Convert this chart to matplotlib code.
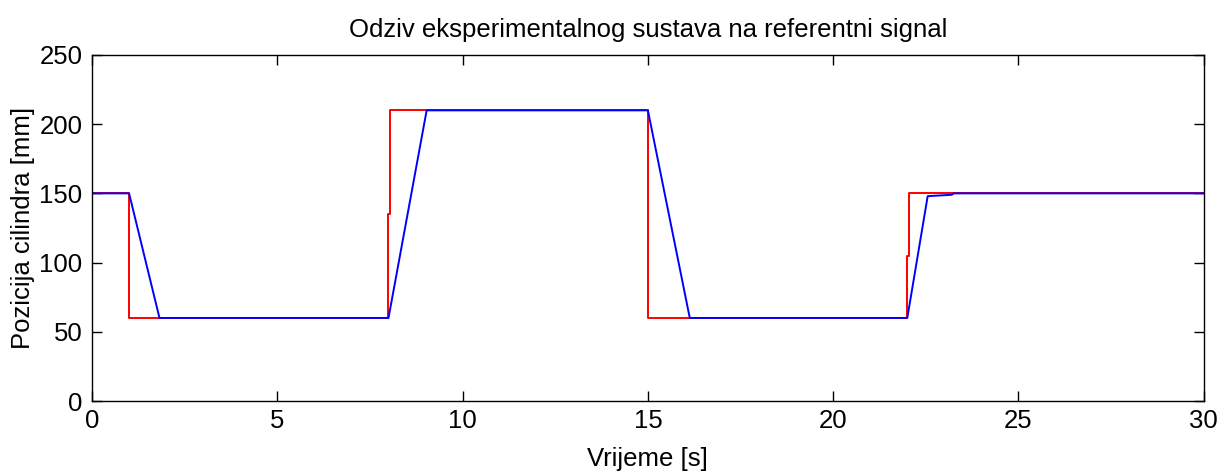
import matplotlib
matplotlib.use("Agg")
import matplotlib.pyplot as plt

# referentni signal (crveno) - vrijeme [s], pozicija [mm]
ref_t = [0.0, 1.0, 1.0, 8.0, 8.0, 8.05, 8.05, 15.0, 15.0, 22.0, 22.0, 22.05, 22.05, 30.0]
ref_y = [150, 150, 60, 60, 135, 135, 210, 210, 60, 60, 105, 105, 150, 150]

# odziv cilindra (plavo)
odz_t = [0.0, 1.0, 1.82, 8.0, 9.03, 15.0, 16.13, 22.0, 22.55, 23.2, 23.25, 30.0]
odz_y = [150, 150, 60, 60, 210, 210, 60, 60, 148, 149, 150, 150]

x_ticks = [0, 5, 10, 15, 20, 25, 30]
y_ticks = [0, 50, 100, 150, 200, 250]

plt.rcParams["font.family"] = ["Liberation Sans", "DejaVu Sans"]
FS = 18.5

fig = plt.figure(figsize=(12.19, 4.74), dpi=100)
ax = fig.add_axes([0.0755, 0.154, 0.912, 0.730])

ax.plot(ref_t, ref_y, color="#ff0000", linewidth=1.4)
ax.plot(odz_t, odz_y, color="#0000ff", linewidth=1.4)

ax.set_xlim(0, 30)
ax.set_ylim(0, 250)
ax.set_xticks(x_ticks)
ax.set_yticks(y_ticks)
ax.tick_params(direction="in", length=7, width=1, top=True, right=True,
               labelsize=FS)
ax.tick_params(axis="x", pad=6)
ax.tick_params(axis="y", pad=7)
for s in ax.spines.values():
    s.set_linewidth(1)

ax.set_xlabel("Vrijeme [s]", fontsize=FS, labelpad=10)
ax.set_ylabel("Pozicija cilindra [mm]", fontsize=FS, labelpad=3)
ax.set_title("Odziv eksperimentalnog sustava na referentni signal", fontsize=FS, pad=13)

fig.savefig("out.png", dpi=100)
